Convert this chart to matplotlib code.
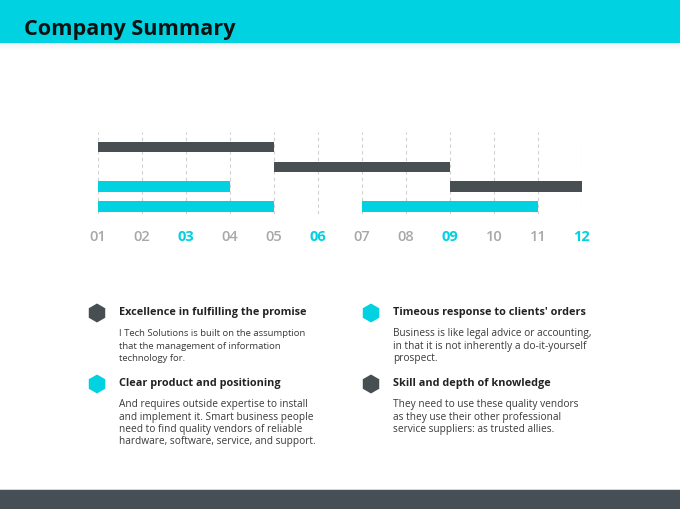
import matplotlib.pyplot as plt
from matplotlib.patches import Rectangle, RegularPolygon

CYAN = "#00D2E2"
DARK = "#474F53"
GRID = "#CFCFCF"
TICK_GRAY = "#A8A8A8"

# gantt data
bar_rows = [0, 1, 2, 2, 3, 3]
bar_start = [1, 5, 1, 9, 1, 7]
bar_end = [5, 9, 4, 12, 5, 11]
bar_kind = ["dark", "dark", "cyan", "dark", "cyan", "cyan"]

months = ["01", "02", "03", "04", "05", "06", "07", "08", "09", "10", "11", "12"]
highlight = ["03", "06", "09", "12"]

title = "Company Summary"

headings = [
    "Excellence in fulfilling the promise",
    "Clear product and positioning",
    "Timeous response to clients' orders",
    "Skill and depth of knowledge",
]
bodies = [
    ["I Tech Solutions is built on the assumption",
     "that the management of information",
     "technology for."],
    ["And requires outside expertise to install",
     "and implement it. Smart business people",
     "need to find quality vendors of reliable",
     "hardware, software, service, and support."],
    ["Business is like legal advice or accounting,",
     "in that it is not inherently a do-it-yourself",
     "prospect."],
    ["They need to use these quality vendors",
     "as they use their other professional",
     "service suppliers: as trusted allies."],
]
icon_kind = ["dark", "cyan", "cyan", "dark"]
body_size = [6.8, 7.3, 7.3, 7.3]

W, H = 680, 510
plt.rcParams["font.family"] = ["Open Sans", "DejaVu Sans"]

fig = plt.figure(figsize=(6.8, 5.1), dpi=100)

# full-figure pixel overlay for decoration and text
bg = fig.add_axes([0, 0, 1, 1])
bg.set_xlim(0, W)
bg.set_ylim(H, 0)
bg.axis("off")

# header band + soft shadow
for i in range(7):
    bg.add_patch(Rectangle((0, 44 + i), W, 1, color="#000000",
                           alpha=0.06 * (1 - i / 7), lw=0))
bg.add_patch(Rectangle((0, 0), W, 44, color=CYAN, lw=0))
bg.text(24, 29.5, title, fontsize=15.6, fontweight="bold", color="#111111",
        va="center", ha="left")

# footer band
bg.add_patch(Rectangle((0, 490), W, 20, color="#D5D8DA", lw=0))
bg.add_patch(Rectangle((0, 491), W, 19, color="#454F55", lw=0))

# text blocks
colors = {"dark": DARK, "cyan": CYAN}
block_x = [97, 97, 371, 371]
block_y = [313, 384, 313, 384]
for i in range(4):
    cx, cy = block_x[i], block_y[i]
    bg.add_patch(RegularPolygon((cx, cy + 1), numVertices=6, radius=9.5,
                                orientation=0, color=colors[icon_kind[i]], lw=0))
    bg.text(cx + 22, cy, headings[i], fontsize=7.8, fontweight="bold",
            color="#222222", va="center", ha="left")
    for j, line in enumerate(bodies[i]):
        bg.text(cx + 22, cy + 21 + j * 12.3, line, fontsize=body_size[i],
                color="#3A3A3A", va="center", ha="left")

# gantt chart
ax = fig.add_axes([98 / W, 1 - 215 / H, 484 / W, 82 / H])
for r, s, e, k in zip(bar_rows, bar_start, bar_end, bar_kind):
    ax.barh(r, e - s, left=s, height=0.53, color=colors[k], zorder=3)

ax.set_xlim(1, 12)
ax.set_ylim(3.38, -0.76)
ticks = list(range(1, len(months) + 1))
ax.set_xticks(ticks)
ax.set_xticklabels(months)
for lab in ax.get_xticklabels():
    lab.set_fontsize(10.5)
    if lab.get_text() in highlight:
        lab.set_fontweight("bold")
        lab.set_color(CYAN)
    else:
        lab.set_fontweight("semibold")
        lab.set_color(TICK_GRAY)
ax.tick_params(axis="x", length=0, pad=11)
ax.set_yticks([])
for t in ticks:
    ax.axvline(t, color=GRID, lw=0.8, ls=(0, (3, 3)), zorder=1)
for sp in ax.spines.values():
    sp.set_visible(False)
ax.set_facecolor("none")

fig.savefig("out.png", dpi=100)
